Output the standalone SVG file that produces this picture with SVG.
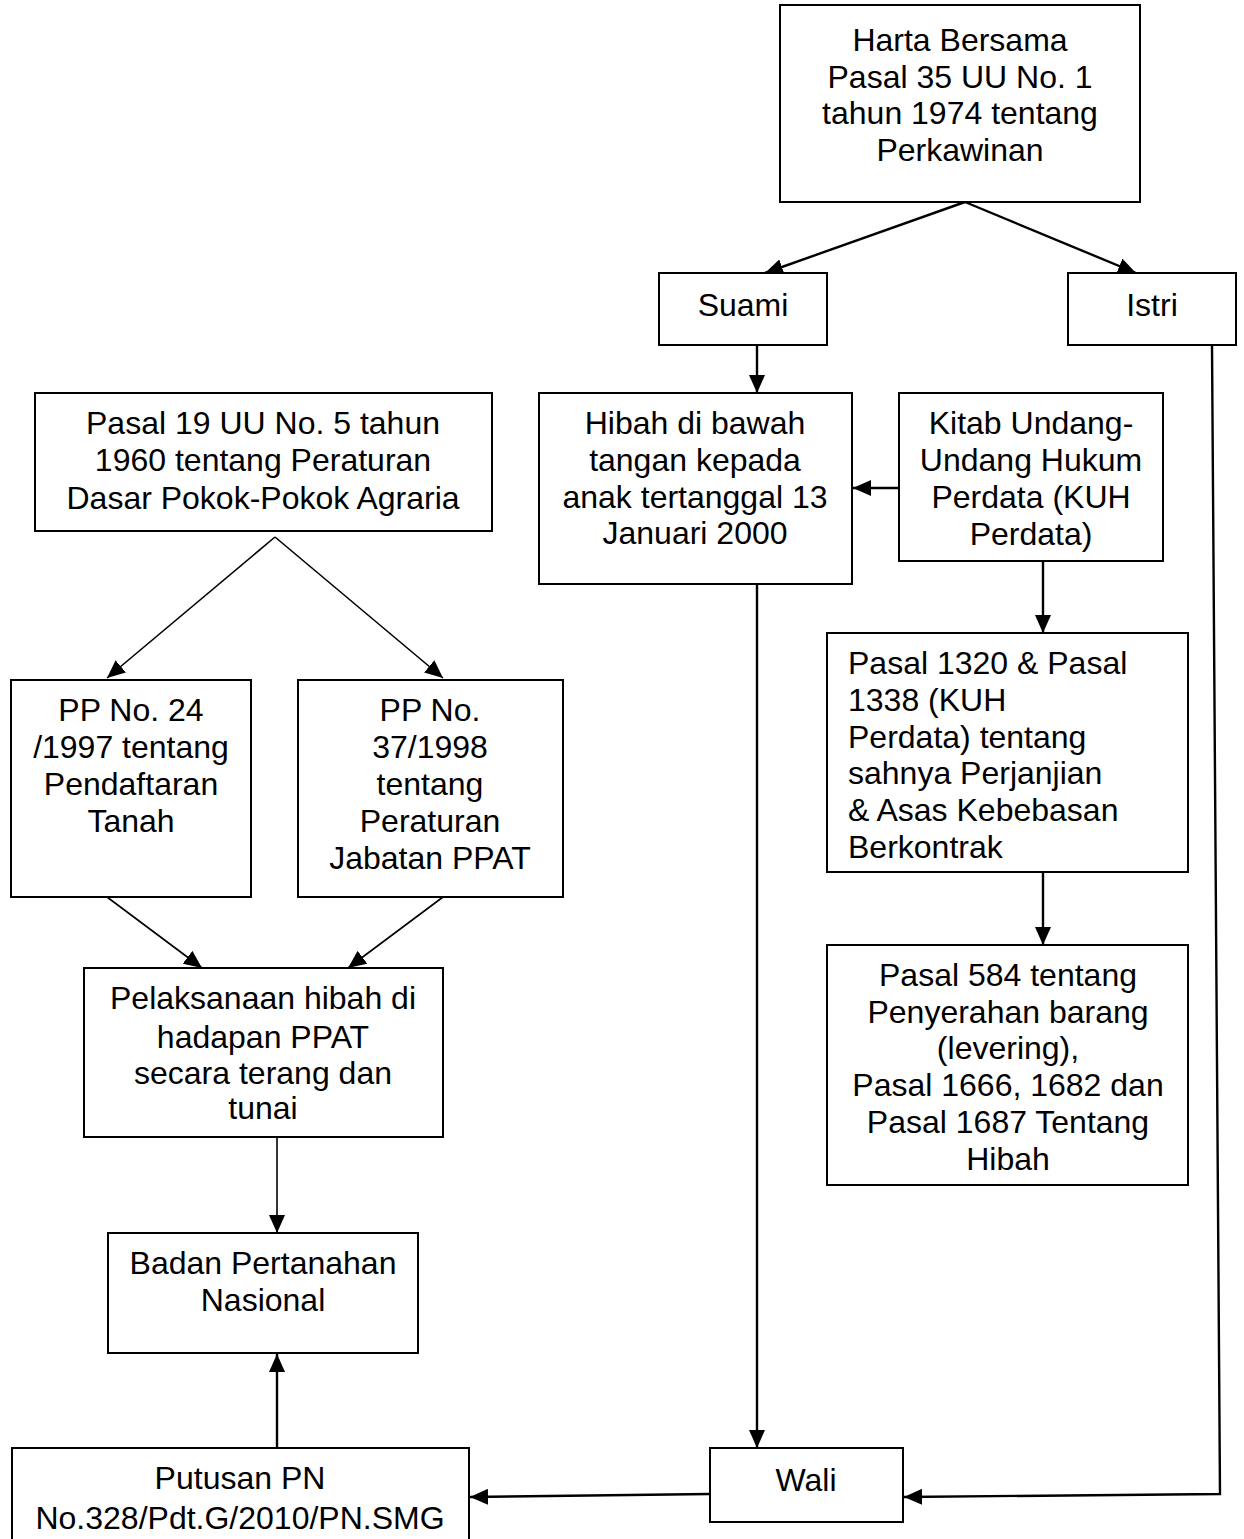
<svg xmlns="http://www.w3.org/2000/svg" width="1244" height="1539" viewBox="0 0 1244 1539">
<defs>
<style>
.box{fill:#fff;stroke:#000;stroke-width:2}
.t{font-family:"Liberation Sans",Arial,sans-serif;font-size:32px;fill:#000;text-anchor:middle}
.tl{font-family:"Liberation Sans",Arial,sans-serif;font-size:32px;fill:#000;text-anchor:start}
.c{fill:none;stroke:#000;stroke-width:2.4}
.c2{fill:none;stroke:#000;stroke-width:1.6}
</style>
<marker id="ah" markerUnits="userSpaceOnUse" markerWidth="20" markerHeight="16" refX="18" refY="8" orient="auto">
<path d="M0,0 L18,8 L0,16 z" fill="#000"/>
</marker>
</defs>
<rect width="1244" height="1539" fill="#fff"/>

<g id="connectors">
<line class="c" x1="965" y1="202" x2="765" y2="273" marker-end="url(#ah)"/>
<line class="c" x1="965" y1="202" x2="1136" y2="273" marker-end="url(#ah)"/>
<line class="c" x1="757" y1="345" x2="757" y2="393" marker-end="url(#ah)"/>
<line class="c" x1="899" y1="488" x2="853" y2="488" marker-end="url(#ah)"/>
<line class="c" x1="1043" y1="561" x2="1043" y2="633" marker-end="url(#ah)"/>
<line class="c" x1="1043" y1="872" x2="1043" y2="945" marker-end="url(#ah)"/>
<line class="c" x1="757" y1="584" x2="757" y2="1448" marker-end="url(#ah)"/>
<polyline class="c" points="1212,345 1220,1494 904,1497" marker-end="url(#ah)"/>
<line class="c" x1="710" y1="1494" x2="470" y2="1497" marker-end="url(#ah)"/>
<line class="c" x1="277" y1="1448" x2="277" y2="1354" marker-end="url(#ah)"/>
<line class="c2" x1="275" y1="537" x2="107" y2="678" marker-end="url(#ah)"/>
<line class="c2" x1="275" y1="537" x2="443" y2="678" marker-end="url(#ah)"/>
<line class="c2" x1="107" y1="897" x2="202" y2="968" marker-end="url(#ah)"/>
<line class="c2" x1="443" y1="897" x2="348" y2="968" marker-end="url(#ah)"/>
<line class="c2" x1="277" y1="1137" x2="277" y2="1233" marker-end="url(#ah)"/>
</g>

<g id="harta-bersama">
<rect class="box" x="780" y="5" width="360" height="197"/>
<text class="t" x="960" y="51">Harta Bersama</text>
<text class="t" x="960" y="88">Pasal 35 UU No. 1</text>
<text class="t" x="960" y="124">tahun 1974 tentang</text>
<text class="t" x="960" y="161">Perkawinan</text>
</g>

<g id="suami">
<rect class="box" x="659" y="273" width="168" height="72"/>
<text class="t" x="743" y="316">Suami</text>
</g>

<g id="istri">
<rect class="box" x="1068" y="273" width="168" height="72"/>
<text class="t" x="1152" y="316">Istri</text>
</g>

<g id="hibah">
<rect class="box" x="539" y="393" width="313" height="191"/>
<text class="t" x="695" y="434">Hibah di bawah</text>
<text class="t" x="695" y="471">tangan kepada</text>
<text class="t" x="695" y="508">anak tertanggal 13</text>
<text class="t" x="695" y="544">Januari 2000</text>
</g>

<g id="kuh-perdata">
<rect class="box" x="899" y="393" width="264" height="168"/>
<text class="t" x="1031" y="434">Kitab Undang-</text>
<text class="t" x="1031" y="471">Undang Hukum</text>
<text class="t" x="1031" y="508">Perdata (KUH</text>
<text class="t" x="1031" y="545">Perdata)</text>
</g>

<g id="pasal-1320">
<rect class="box" x="827" y="633" width="361" height="239"/>
<text class="tl" x="848" y="674">Pasal 1320 &amp; Pasal</text>
<text class="tl" x="848" y="711">1338 (KUH</text>
<text class="tl" x="848" y="748">Perdata) tentang</text>
<text class="tl" x="848" y="784">sahnya Perjanjian</text>
<text class="tl" x="848" y="821">&amp; Asas Kebebasan</text>
<text class="tl" x="848" y="858">Berkontrak</text>
</g>

<g id="pasal-584">
<rect class="box" x="827" y="945" width="361" height="240"/>
<text class="t" x="1008" y="986">Pasal 584 tentang</text>
<text class="t" x="1008" y="1023">Penyerahan barang</text>
<text class="t" x="1008" y="1059">(levering),</text>
<text class="t" x="1008" y="1096">Pasal 1666, 1682 dan</text>
<text class="t" x="1008" y="1133">Pasal 1687 Tentang</text>
<text class="t" x="1008" y="1170">Hibah</text>
</g>

<g id="pasal-19">
<rect class="box" x="35" y="393" width="457" height="138"/>
<text class="t" x="263" y="434">Pasal 19 UU No. 5 tahun</text>
<text class="t" x="263" y="471">1960 tentang Peraturan</text>
<text class="t" x="263" y="509">Dasar Pokok-Pokok Agraria</text>
</g>

<g id="pp-24">
<rect class="box" x="11" y="680" width="240" height="217"/>
<text class="t" x="131" y="721">PP No. 24</text>
<text class="t" x="131" y="758">/1997 tentang</text>
<text class="t" x="131" y="795">Pendaftaran</text>
<text class="t" x="131" y="832">Tanah</text>
</g>

<g id="pp-37">
<rect class="box" x="298" y="680" width="265" height="217"/>
<text class="t" x="430" y="721">PP No.</text>
<text class="t" x="430" y="758">37/1998</text>
<text class="t" x="430" y="795">tentang</text>
<text class="t" x="430" y="832">Peraturan</text>
<text class="t" x="430" y="869">Jabatan PPAT</text>
</g>

<g id="pelaksanaan">
<rect class="box" x="84" y="968" width="359" height="169"/>
<text class="t" x="263" y="1009">Pelaksanaan hibah di</text>
<text class="t" x="263" y="1048">hadapan PPAT</text>
<text class="t" x="263" y="1084">secara terang dan</text>
<text class="t" x="263" y="1119">tunai</text>
</g>

<g id="bpn">
<rect class="box" x="108" y="1233" width="310" height="120"/>
<text class="t" x="263" y="1274">Badan Pertanahan</text>
<text class="t" x="263" y="1311">Nasional</text>
</g>

<g id="wali">
<rect class="box" x="710" y="1448" width="193" height="74"/>
<text class="t" x="806" y="1491">Wali</text>
</g>

<g id="putusan">
<rect class="box" x="12" y="1448" width="457" height="100"/>
<text class="t" x="240" y="1489">Putusan PN</text>
<text class="t" x="240" y="1529">No.328/Pdt.G/2010/PN.SMG</text>
</g>
</svg>
